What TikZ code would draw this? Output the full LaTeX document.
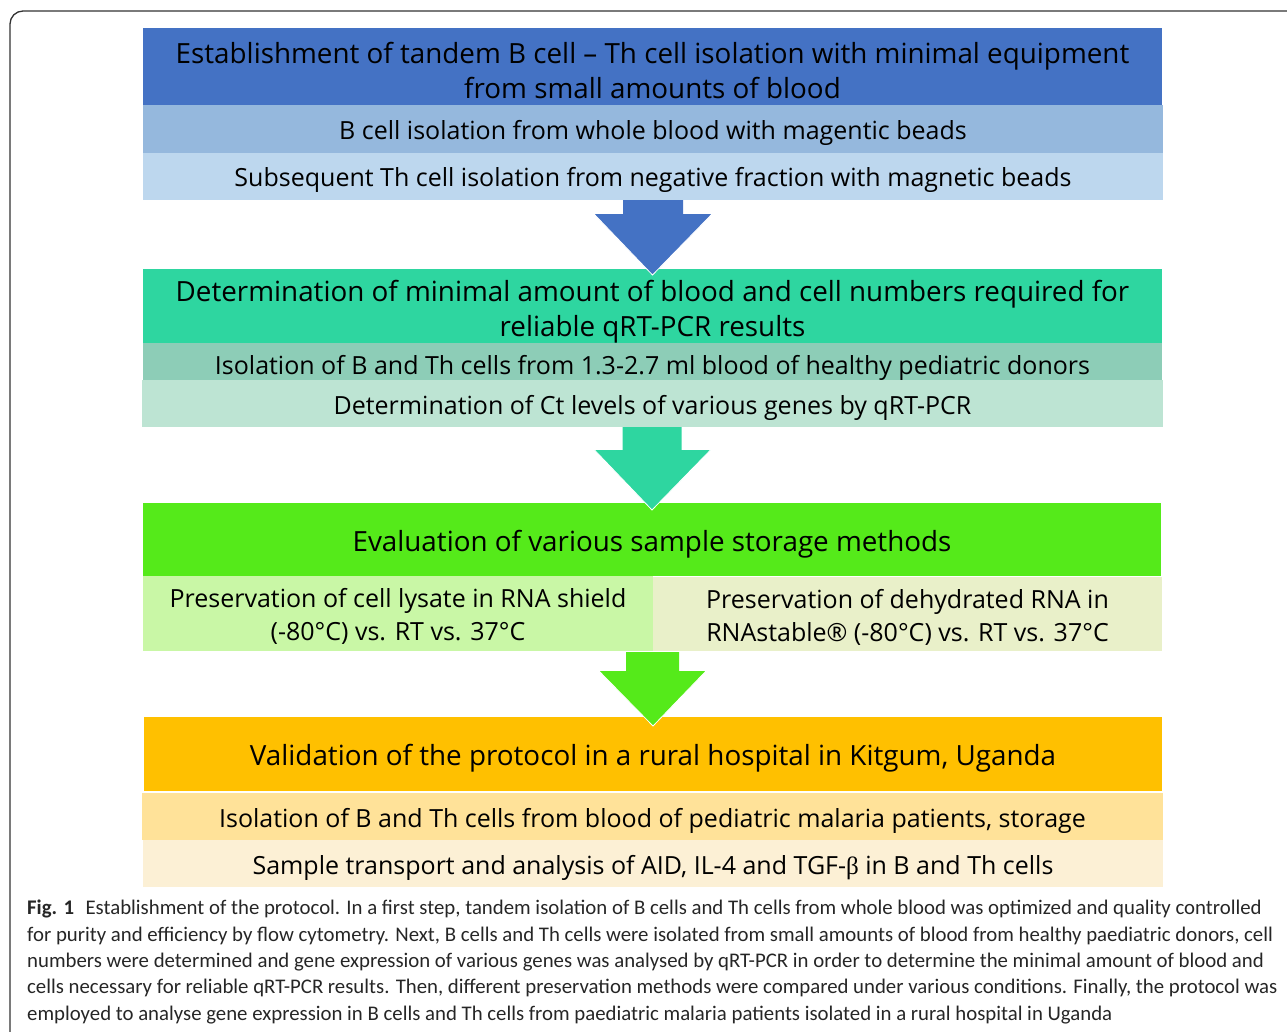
\documentclass[tikz,border=0pt]{standalone}
\usepackage{fontspec}
\setmainfont{Open Sans}
\newfontfamily\capfont{Carlito}
\newfontfamily\grk{Liberation Serif}
\begin{document}
\begin{tikzpicture}[x=1pt,y=-1pt,
  box/.style={anchor=north west, inner sep=0pt, outer sep=0pt},
  txt/.style={inner sep=0pt, align=center, text=black},
  hdr/.style={txt, font=\fontsize{27.8}{35}\selectfont},
  sub/.style={txt, font=\fontsize{25}{33}\selectfont},
  barrow/.style={draw=white, line width=0.8pt, line join=miter}
]
\definecolor{c1h}{HTML}{4472C4}\definecolor{c1a}{HTML}{95B8DD}\definecolor{c1b}{HTML}{BDD7EE}
\definecolor{c2h}{HTML}{2ED6A0}\definecolor{c2a}{HTML}{8DCDB7}\definecolor{c2b}{HTML}{BDE4D3}
\definecolor{c3h}{HTML}{55EA1A}\definecolor{c3a}{HTML}{C9F7A6}\definecolor{c3b}{HTML}{E9F0C9}
\definecolor{c4h}{HTML}{FFC000}\definecolor{c4a}{HTML}{FFE299}\definecolor{c4b}{HTML}{FCF0D5}
\definecolor{framec}{HTML}{333333}
\useasboundingbox (0,0) rectangle (1287,1031);
% frame
\draw[framec, line width=1.3pt, rounded corners=13pt] (10,1040) -- (10,11) -- (1300,11);
% block 1
\node[box, fill=c1h, minimum width=1019pt, minimum height=77pt] (b1h) at (143,28) {};
\node[box, fill=c1a, minimum width=1020pt, minimum height=48pt] (b1a) at (143,105) {};
\node[box, fill=c1b, minimum width=1020pt, minimum height=47pt] (b1b) at (143,153) {};
\node[hdr] (t1h) at ([yshift=-4pt]b1h.center)
  {Establishment of tandem B cell -- Th cell isolation with minimal equipment\\from small amounts of blood};
\node[sub] (t1a) at ([yshift=-4pt]b1a.center) {B cell isolation from whole blood with magentic beads};
\node[sub] (t1b) at ([yshift=-3pt]b1b.center) {Subsequent Th cell isolation from negative fraction with magnetic beads};
% block 2
\node[box, fill=c2h, minimum width=1019pt, minimum height=74pt] (b2h) at (143,269) {};
\node[box, fill=c2a, minimum width=1019pt, minimum height=37pt] (b2a) at (143,343) {};
\node[box, fill=c2b, minimum width=1021pt, minimum height=47pt] (b2b) at (142,380) {};
\node[hdr] (t2h) at ([yshift=-6pt]b2h.center)
  {Determination of minimal amount of blood and cell numbers required for\\reliable qRT-PCR results};
\node[sub] (t2a) at ([yshift=-6pt]b2a.center) {Isolation of B and Th cells from 1.3-2.7 ml blood of healthy pediatric donors};
\node[sub] (t2b) at ([yshift=-4pt]b2b.center) {Determination of Ct levels of various genes by qRT-PCR};
% block 3
\node[box, fill=c3h, minimum width=1018pt, minimum height=73pt] (b3h) at (143,503) {};
\node[box, fill=c3a, minimum width=510pt, minimum height=75pt] (b3a) at (143,576) {};
\node[box, fill=c3b, minimum width=509pt, minimum height=74pt] (b3b) at (653,577) {};
\node[hdr] (t3h) at ([yshift=-5pt]b3h.center) {Evaluation of various sample storage methods};
\node[sub] (t3a) at ([yshift=-3pt]b3a.center) {Preservation of cell lysate in RNA shield\\(-80°C) vs. RT vs. 37°C};
\node[sub] (t3b) at ([yshift=-3pt]b3b.center) {Preservation of dehydrated RNA in\\RNAstable® (-80°C) vs. RT vs. 37°C};
% block 4
\node[box, fill=c4h, minimum width=1018pt, minimum height=74pt] (b4h) at (144,717) {};
\node[box, fill=c4a, minimum width=1021pt, minimum height=47pt] (b4a) at (142,793) {};
\node[box, fill=c4b, minimum width=1020pt, minimum height=47pt] (b4b) at (143,840) {};
\node[hdr] (t4h) at ([yshift=-4pt]b4h.center) {Validation of the protocol in a rural hospital in Kitgum, Uganda};
\node[sub] (t4a) at ([yshift=-4pt]b4a.center) {Isolation of B and Th cells from blood of pediatric malaria patients, storage};
\node[sub] (t4b) at ([yshift=-4pt]b4b.center) {Sample transport and analysis of AID, IL-4 and TGF-{\grk β} in B and Th cells};
% block arrows
\fill[c1h] ([xshift=-30pt]b1b.south) -- ([xshift=30pt]b1b.south) -- ([xshift=30pt,yshift=-14pt]b1b.south)
  -- ([xshift=59pt,yshift=-14pt]b1b.south) -- ([yshift=-6pt]b2h.north) -- ([xshift=-59pt,yshift=-14pt]b1b.south)
  -- ([xshift=-30pt,yshift=-14pt]b1b.south) -- cycle;
\draw[barrow] ([xshift=-59pt,yshift=-14pt]b1b.south) -- ([yshift=-6pt]b2h.north) -- ([xshift=59pt,yshift=-14pt]b1b.south);
\fill[c2h] ([xshift=-30pt]b2b.south) -- ([xshift=29pt]b2b.south) -- ([xshift=29pt,yshift=-23pt]b2b.south)
  -- ([xshift=58pt,yshift=-23pt]b2b.south) -- ([yshift=-7pt]b3h.north) -- ([xshift=-58pt,yshift=-23pt]b2b.south)
  -- ([xshift=-30pt,yshift=-23pt]b2b.south) -- cycle;
\draw[barrow] ([xshift=-58pt,yshift=-23pt]b2b.south) -- ([yshift=-7pt]b3h.north) -- ([xshift=58pt,yshift=-23pt]b2b.south);
\coordinate (a3) at (653,652);
\fill[c3h] ([xshift=-27pt]a3) -- ([xshift=26pt]a3) -- ([xshift=26pt,yshift=-19pt]a3)
  -- ([xshift=53pt,yshift=-19pt]a3) -- ([yshift=-9pt]b4h.north) -- ([xshift=-54pt,yshift=-19pt]a3)
  -- ([xshift=-27pt,yshift=-19pt]a3) -- cycle;
\draw[barrow] ([xshift=-54pt,yshift=-19pt]a3) -- ([yshift=-9pt]b4h.north) -- ([xshift=53pt,yshift=-19pt]a3);
% caption
\node[anchor=north west, inner sep=0pt, align=left, font=\capfont\fontsize{20.8}{26.3}\selectfont, text=black!85] (cap) at (27,900)
  {\textbf{Fig. 1}\hspace{0.55em}Establishment of the protocol. In a first step, tandem isolation of B cells and Th cells from whole blood was optimized and quality controlled\\
   for purity and efficiency by flow cytometry. Next, B cells and Th cells were isolated from small amounts of blood from healthy paediatric donors, cell\\
   numbers were determined and gene expression of various genes was analysed by qRT-PCR in order to determine the minimal amount of blood and\\
   cells necessary for reliable qRT-PCR results. Then, different preservation methods were compared under various conditions. Finally, the protocol was\\
   employed to analyse gene expression in B cells and Th cells from paediatric malaria patients isolated in a rural hospital in Uganda};
\end{tikzpicture}
\end{document}
